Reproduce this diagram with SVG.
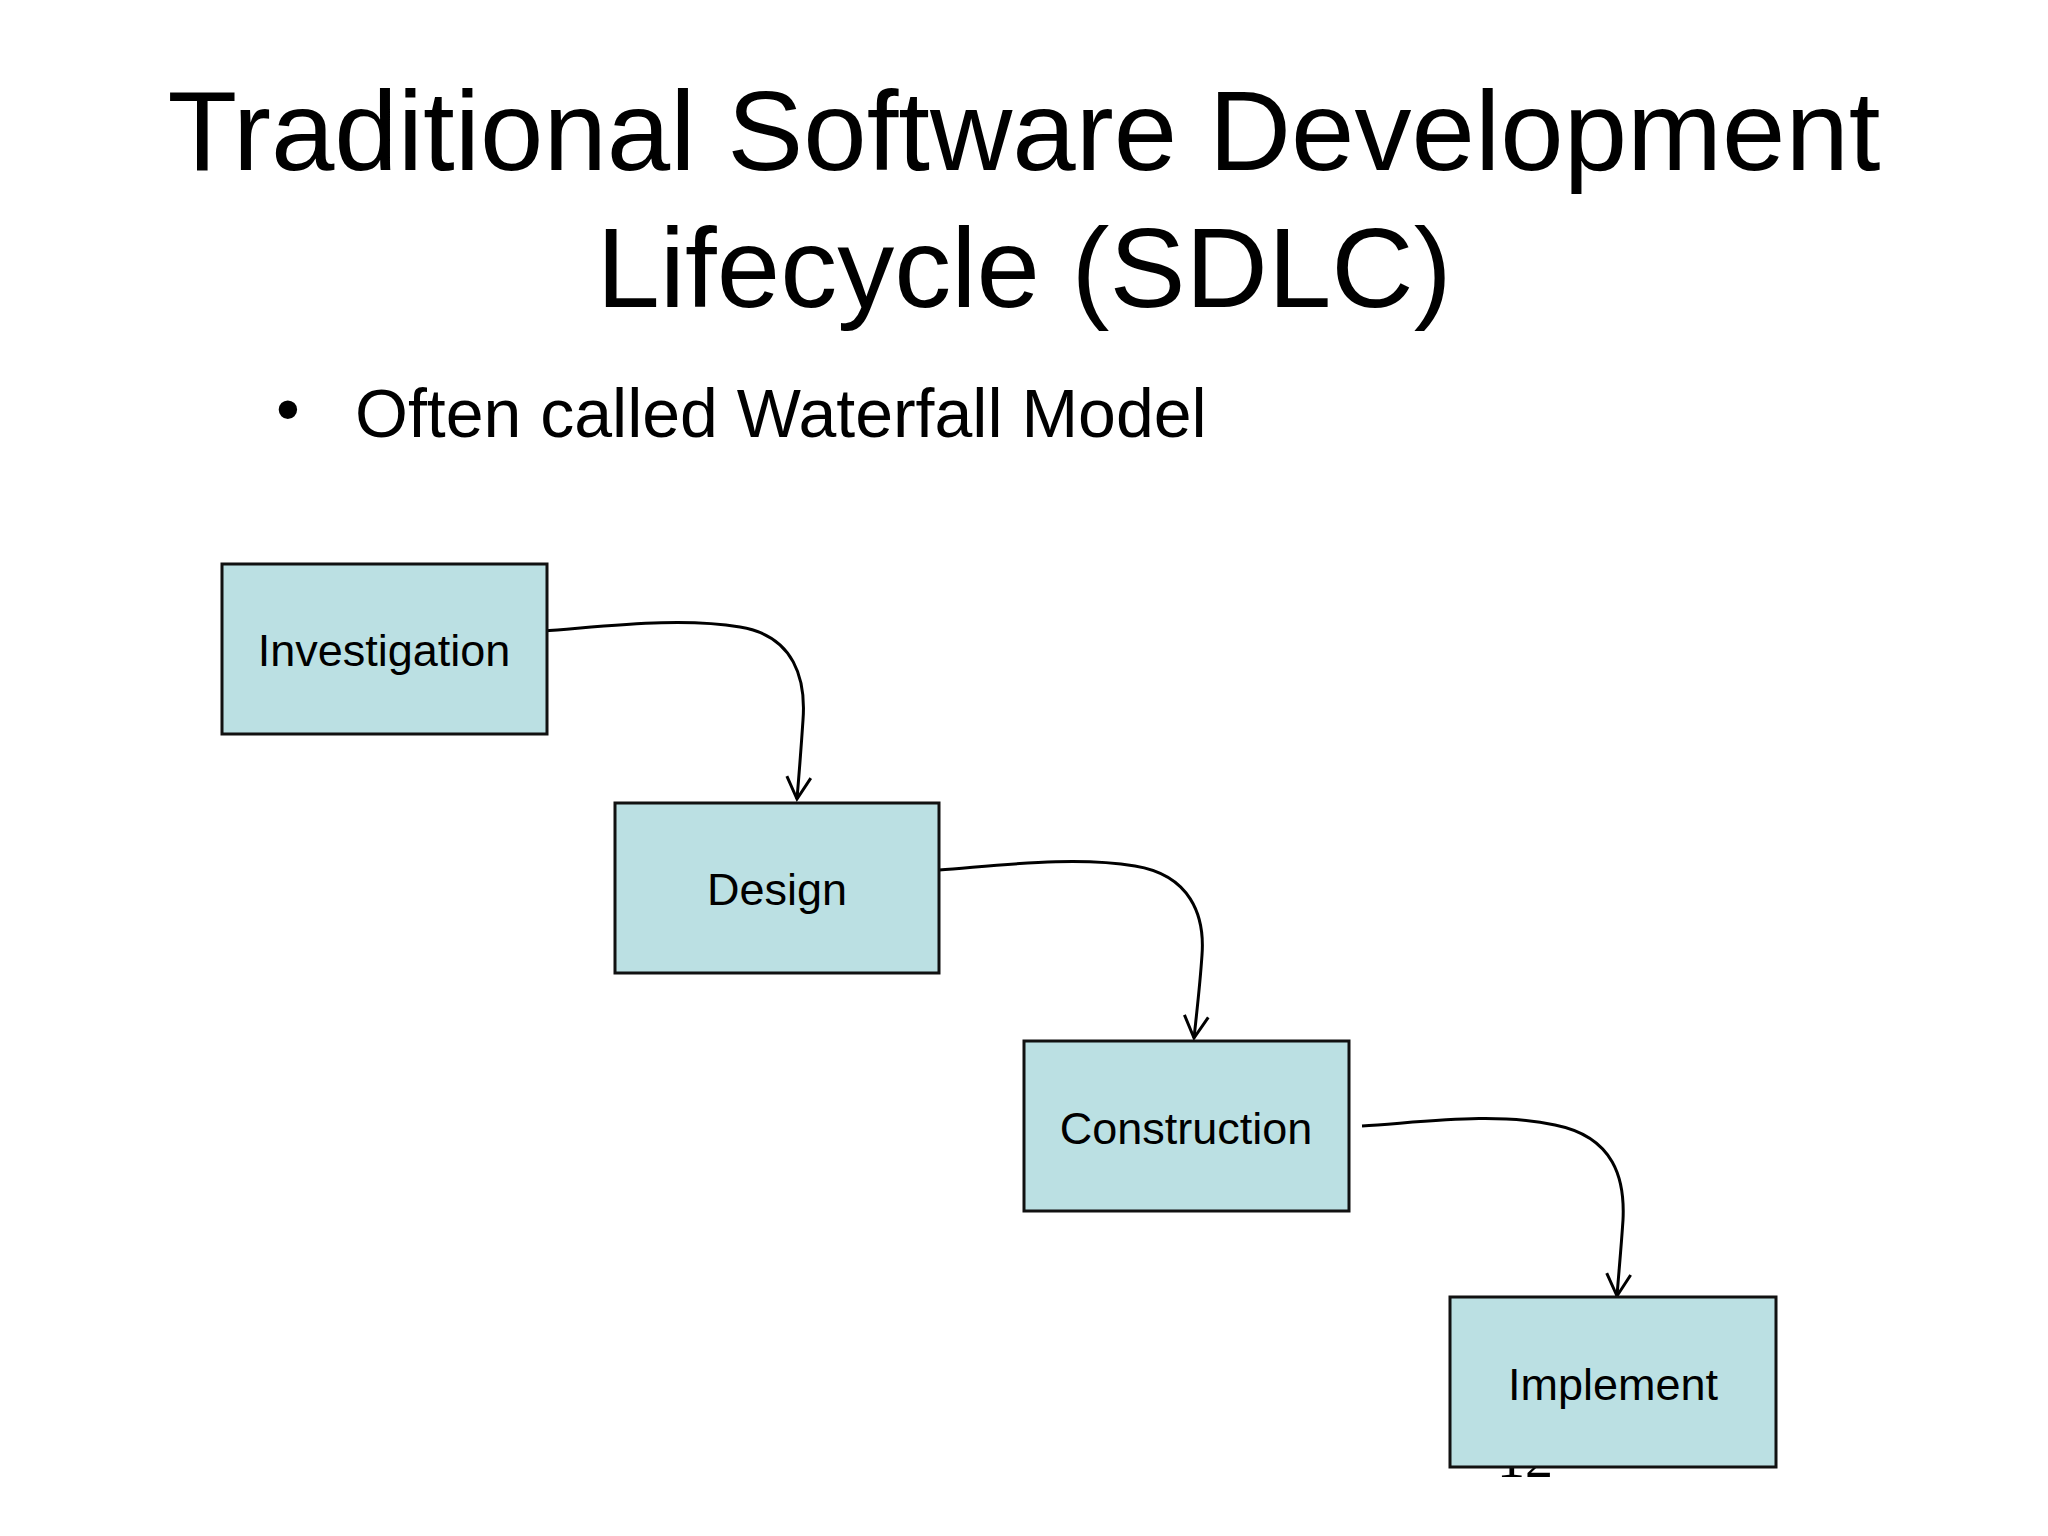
<svg xmlns="http://www.w3.org/2000/svg" width="2048" height="1536" viewBox="0 0 2048 1536">
  <style>
    .title { font-family: "Liberation Sans", Arial, sans-serif; font-size: 114px; fill: #000; text-anchor: middle; }
    .bullet { font-family: "Liberation Sans", Arial, sans-serif; font-size: 68px; fill: #000; }
    .node rect { fill: #BBE0E3; stroke: #111; stroke-width: 3; }
    .node text { font-family: "Liberation Sans", Arial, sans-serif; font-size: 45px; fill: #000; text-anchor: middle; }
    .conn { fill: none; stroke: #000; stroke-width: 3; marker-end: url(#arrow); }
    .pagenum { font-family: "Liberation Serif", "Times New Roman", serif; font-size: 56px; fill: #000; }
  </style>
  <defs>
    <marker id="arrow" markerUnits="userSpaceOnUse" viewBox="-26 -15 30 30" refX="0" refY="0" markerWidth="30" markerHeight="30" orient="auto">
      <path d="M-22,-12 L0,0 L-22,12" fill="none" stroke="#000" stroke-width="3"/>
    </marker>
  </defs>
  <rect width="2048" height="1536" fill="#fff"/>

  <text class="title" x="1024" y="170">Traditional Software Development</text>
  <text class="title" x="1024" y="307">Lifecycle (SDLC)</text>
  <text class="bullet" x="276" y="432">•</text>
  <text class="bullet" x="355" y="437">Often called Waterfall Model</text>

  <text class="pagenum" x="1497" y="1477">12</text>

  <g id="connectors">
    <path class="conn" d="M543,631 C610,626 680,617 740,627 C795,636 806,680 803,720 C801,750 799,775 797,799"/>
    <path class="conn" d="M939,870 C1005,865 1075,856 1135,866 C1190,875 1205,915 1202,955 C1200,985 1197,1010 1194,1038"/>
    <path class="conn" d="M1362,1126 C1425,1122 1495,1112 1555,1125 C1615,1137 1625,1180 1623,1220 C1621,1250 1619,1270 1617,1296"/>
  </g>

  <g id="node-investigation" class="node">
    <rect x="222" y="564" width="325" height="170"/>
    <text x="384" y="666">Investigation</text>
  </g>
  <g id="node-design" class="node">
    <rect x="615" y="803" width="324" height="170"/>
    <text x="777" y="905">Design</text>
  </g>
  <g id="node-construction" class="node">
    <rect x="1024" y="1041" width="325" height="170"/>
    <text x="1186" y="1144">Construction</text>
  </g>
  <g id="node-implement" class="node">
    <rect x="1450" y="1297" width="326" height="170"/>
    <text x="1613" y="1400">Implement</text>
  </g>
</svg>
